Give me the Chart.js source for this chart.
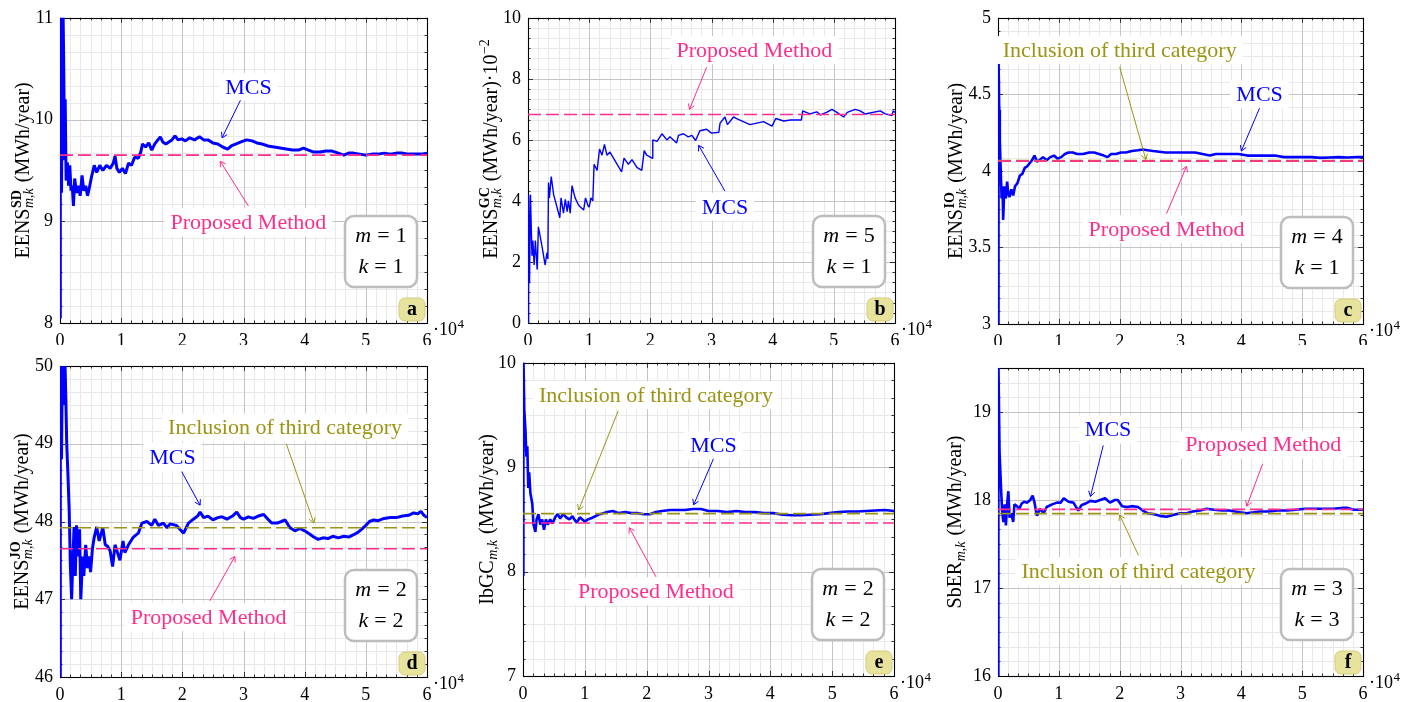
<!DOCTYPE html>
<html>
<head>
<meta charset="utf-8">
<script src="https://cdn.jsdelivr.net/npm/chart.js@4.4.1/dist/chart.umd.min.js"></script>
<style>
  html, body { margin: 0; padding: 0; background: #fff; }
  body { width: 1419px; height: 702px; position: relative; overflow: hidden; }
  canvas { position: absolute; }
</style>
</head>
<body>
<canvas id="pa"></canvas>
<canvas id="pb"></canvas>
<canvas id="pc"></canvas>
<canvas id="pd"></canvas>
<canvas id="pe"></canvas>
<canvas id="pf"></canvas>
<script>
// x values are iterations in units of 10^4
const xTicks = [0, 1, 2, 3, 4, 5, 6];

// (a) EENS SD, m=1 k=1
const mcsA = [[0,8.05],[0.005,11.5],[0.025,9.28],[0.045,11.3],[0.06,10.6],[0.075,9.6],[0.085,10.2],[0.1,9.4],[0.12,9.58],[0.14,9.35],[0.16,9.55],[0.18,9.3],[0.2,9.35],[0.22,9.15],[0.24,9.42],[0.27,9.28],[0.3,9.35],[0.33,9.25],[0.36,9.45],[0.39,9.3],[0.42,9.35],[0.45,9.25],[0.48,9.33],[0.52,9.45],[0.56,9.55],[0.6,9.48],[0.65,9.55],[0.7,9.5],[0.76,9.55],[0.82,9.52],[0.87,9.57],[0.9,9.64],[0.93,9.52],[0.97,9.48],[1.02,9.52],[1.07,9.47],[1.12,9.57],[1.17,9.55],[1.22,9.63],[1.28,9.62],[1.32,9.68],[1.35,9.76],[1.4,9.73],[1.45,9.77],[1.5,9.7],[1.55,9.76],[1.6,9.8],[1.64,9.83],[1.68,9.78],[1.73,9.76],[1.78,9.78],[1.83,9.8],[1.88,9.84],[1.93,9.8],[1.99,9.81],[2.05,9.79],[2.12,9.82],[2.2,9.8],[2.28,9.83],[2.35,9.8],[2.42,9.8],[2.5,9.77],[2.58,9.76],[2.66,9.73],[2.74,9.71],[2.8,9.74],[2.88,9.76],[2.96,9.78],[3.05,9.8],[3.14,9.79],[3.22,9.77],[3.3,9.76],[3.4,9.74],[3.5,9.73],[3.6,9.72],[3.7,9.71],[3.8,9.7],[3.9,9.7],[3.98,9.72],[4.06,9.7],[4.15,9.68],[4.25,9.68],[4.35,9.69],[4.45,9.69],[4.55,9.67],[4.64,9.65],[4.72,9.67],[4.8,9.67],[4.9,9.66],[5.0,9.65],[5.1,9.66],[5.2,9.66],[5.3,9.67],[5.4,9.66],[5.5,9.67],[5.6,9.67],[5.7,9.66],[5.8,9.66],[5.9,9.66],[6.0,9.67]];
const proposedA = 9.65;
const yTicksA = [8, 9, 10, 11];

// (b) EENS GC (x10^-2), m=5 k=1
const mcsB = [[0,0],[0.01,4.2],[0.025,1.3],[0.04,4.2],[0.065,2.2],[0.08,2.7],[0.1,1.9],[0.12,2.7],[0.15,1.75],[0.17,3.15],[0.23,2.5],[0.28,1.9],[0.31,2.3],[0.325,2.1],[0.335,4.6],[0.35,4.1],[0.38,4.8],[0.42,4.2],[0.52,3.45],[0.54,4.1],[0.58,3.6],[0.61,4.05],[0.64,3.65],[0.66,4.0],[0.69,3.6],[0.72,4.5],[0.77,4.1],[0.83,3.85],[0.91,3.7],[0.94,4.1],[0.98,3.85],[1.0,3.8],[1.03,4.1],[1.06,4.0],[1.08,5.2],[1.13,5.0],[1.17,5.7],[1.21,5.5],[1.25,5.85],[1.29,5.5],[1.34,5.6],[1.53,4.95],[1.57,5.4],[1.64,5.2],[1.7,5.35],[1.78,5.1],[1.86,5.0],[1.9,5.65],[1.94,5.5],[2.03,5.4],[2.04,6.0],[2.11,5.95],[2.19,6.2],[2.27,6.0],[2.32,6.1],[2.43,5.9],[2.46,6.15],[2.54,6.2],[2.62,6.1],[2.68,6.15],[2.74,5.98],[2.81,6.3],[2.92,6.35],[3.0,6.22],[3.12,6.25],[3.14,6.55],[3.22,6.75],[3.26,6.5],[3.36,6.75],[3.41,6.7],[3.52,6.6],[3.63,6.5],[3.74,6.55],[3.85,6.6],[3.99,6.45],[4.05,6.7],[4.18,6.62],[4.29,6.65],[4.47,6.65],[4.49,6.95],[4.61,6.85],[4.72,6.92],[4.78,6.82],[4.88,6.9],[4.97,7.0],[5.05,6.9],[5.16,6.75],[5.22,6.9],[5.35,7.0],[5.43,6.95],[5.51,6.85],[5.59,6.88],[5.76,6.95],[5.84,6.85],[5.95,6.8],[5.97,6.95],[6.0,6.9]];
const proposedB = 6.83;
const yTicksB = [0, 2, 4, 6, 8, 10];

// (c) EENS IO, m=4 k=1
const mcsC = [[0,3.0],[0.008,4.76],[0.02,4.4],[0.03,4.2],[0.045,4.0],[0.06,3.82],[0.075,3.9],[0.085,3.68],[0.1,3.85],[0.11,3.9],[0.13,3.82],[0.15,3.93],[0.17,3.85],[0.19,3.83],[0.22,3.88],[0.25,3.84],[0.28,3.9],[0.32,3.92],[0.36,3.97],[0.4,3.98],[0.44,4.02],[0.48,4.03],[0.52,4.05],[0.56,4.07],[0.6,4.1],[0.64,4.06],[0.68,4.07],[0.74,4.09],[0.8,4.07],[0.86,4.09],[0.92,4.1],[0.98,4.08],[1.04,4.09],[1.1,4.11],[1.16,4.12],[1.23,4.12],[1.3,4.11],[1.4,4.11],[1.5,4.12],[1.58,4.12],[1.66,4.11],[1.74,4.1],[1.8,4.09],[1.86,4.11],[1.94,4.11],[2.02,4.12],[2.1,4.12],[2.2,4.13],[2.3,4.135],[2.38,4.14],[2.46,4.135],[2.55,4.13],[2.65,4.125],[2.75,4.12],[2.88,4.12],[3.0,4.12],[3.12,4.12],[3.24,4.12],[3.36,4.11],[3.48,4.1],[3.58,4.11],[3.7,4.11],[3.82,4.11],[3.95,4.11],[4.1,4.1],[4.25,4.1],[4.4,4.1],[4.55,4.1],[4.7,4.09],[4.85,4.09],[5.0,4.09],[5.15,4.09],[5.3,4.085],[5.45,4.088],[5.6,4.09],[5.75,4.088],[5.9,4.09],[6.0,4.09]];
const proposedC = 4.064;
const thirdC = 4.067;
const yTicksC = [3, 3.5, 4, 4.5, 5];

// (d) EENS JO, m=2 k=2
const mcsD = [[0,46],[0.005,50.3],[0.025,48.8],[0.04,50.2],[0.06,49.5],[0.08,50.1],[0.095,49.6],[0.11,49.0],[0.13,48.6],[0.15,48.15],[0.17,47.42],[0.19,47.0],[0.21,47.5],[0.23,47.93],[0.25,47.3],[0.27,47.95],[0.3,47.55],[0.32,47.9],[0.34,47.0],[0.37,47.55],[0.39,47.3],[0.42,47.7],[0.45,47.4],[0.48,47.55],[0.5,47.35],[0.53,47.65],[0.56,47.8],[0.6,47.93],[0.64,47.75],[0.7,47.92],[0.74,47.7],[0.78,47.68],[0.82,47.62],[0.86,47.42],[0.9,47.7],[0.94,47.6],[0.98,47.5],[1.03,47.75],[1.06,47.6],[1.12,47.7],[1.2,47.8],[1.28,47.85],[1.34,47.98],[1.42,48.0],[1.5,47.95],[1.55,48.03],[1.61,47.95],[1.69,47.98],[1.75,47.92],[1.8,47.97],[1.9,47.95],[1.96,47.9],[2.02,47.85],[2.1,47.98],[2.18,48.03],[2.25,48.07],[2.29,48.12],[2.35,48.05],[2.42,48.07],[2.5,48.02],[2.58,48.05],[2.65,48.06],[2.73,48.03],[2.82,48.07],[2.89,48.12],[2.95,48.05],[3.0,48.03],[3.08,48.06],[3.16,48.04],[3.24,48.07],[3.33,48.09],[3.4,48.03],[3.46,47.98],[3.55,47.98],[3.62,48.0],[3.68,48.02],[3.76,47.92],[3.84,47.88],[3.92,47.91],[4.0,47.88],[4.08,47.84],[4.15,47.8],[4.22,47.77],[4.3,47.79],[4.38,47.78],[4.46,47.81],[4.55,47.79],[4.64,47.81],[4.72,47.8],[4.8,47.83],[4.87,47.86],[4.93,47.9],[5.0,47.95],[5.06,48.0],[5.13,48.02],[5.2,48.01],[5.3,48.04],[5.4,48.05],[5.5,48.05],[5.6,48.07],[5.7,48.08],[5.78,48.11],[5.85,48.1],[5.9,48.13],[5.95,48.08],[6.0,48.05]];
const proposedD = 47.65;
const thirdD = 47.92;
const yTicksD = [46, 47, 48, 49, 50];

// (e) IbGC, m=2 k=2
const mcsE = [[0,7.96],[0.006,10.1],[0.02,9.56],[0.04,9.35],[0.055,9.1],[0.07,9.2],[0.085,8.8],[0.1,8.95],[0.12,8.75],[0.15,8.65],[0.17,8.45],[0.2,8.38],[0.22,8.5],[0.25,8.55],[0.28,8.45],[0.31,8.5],[0.34,8.4],[0.37,8.5],[0.4,8.45],[0.44,8.5],[0.48,8.46],[0.52,8.52],[0.56,8.55],[0.6,8.51],[0.65,8.55],[0.7,8.52],[0.75,8.5],[0.8,8.53],[0.84,8.49],[0.87,8.47],[0.92,8.52],[0.96,8.5],[1.0,8.48],[1.05,8.5],[1.1,8.51],[1.17,8.53],[1.24,8.55],[1.3,8.56],[1.36,8.57],[1.45,8.58],[1.55,8.56],[1.65,8.57],[1.75,8.56],[1.85,8.56],[1.95,8.55],[2.05,8.55],[2.15,8.57],[2.25,8.58],[2.38,8.59],[2.5,8.59],[2.62,8.59],[2.75,8.6],[2.88,8.6],[3.0,8.58],[3.15,8.58],[3.3,8.57],[3.45,8.58],[3.6,8.57],[3.75,8.57],[3.9,8.56],[4.05,8.56],[4.2,8.545],[4.35,8.54],[4.5,8.54],[4.65,8.545],[4.8,8.55],[4.95,8.56],[5.1,8.57],[5.25,8.575],[5.4,8.575],[5.55,8.58],[5.7,8.585],[5.85,8.59],[6.0,8.58]];
const proposedE = 8.465;
const thirdE = 8.555;
const yTicksE = [7, 8, 9, 10];

// (f) SbER, m=3 k=3
const mcsF = [[0,16.0],[0.006,19.6],[0.025,18.55],[0.04,18.3],[0.05,18.13],[0.07,17.85],[0.09,17.75],[0.11,17.95],[0.13,17.71],[0.15,17.95],[0.17,18.1],[0.19,17.8],[0.22,17.85],[0.25,17.75],[0.27,17.95],[0.31,17.93],[0.35,17.9],[0.39,17.96],[0.43,17.98],[0.48,17.97],[0.53,18.0],[0.57,18.05],[0.6,17.97],[0.64,17.82],[0.69,17.9],[0.75,17.85],[0.8,17.92],[0.89,17.95],[0.97,17.97],[1.03,17.97],[1.08,18.02],[1.16,17.98],[1.24,17.97],[1.32,17.88],[1.37,17.94],[1.44,17.96],[1.52,17.99],[1.6,17.98],[1.68,18.0],[1.76,18.02],[1.84,17.97],[1.92,18.0],[1.97,18.0],[2.04,17.93],[2.12,17.92],[2.2,17.93],[2.3,17.92],[2.38,17.88],[2.46,17.85],[2.55,17.84],[2.66,17.82],[2.77,17.81],[2.88,17.83],[2.99,17.85],[3.1,17.85],[3.2,17.87],[3.32,17.88],[3.43,17.9],[3.55,17.89],[3.68,17.88],[3.8,17.88],[3.9,17.87],[3.98,17.86],[4.09,17.85],[4.2,17.86],[4.3,17.87],[4.45,17.87],[4.6,17.88],[4.75,17.88],[4.9,17.89],[5.05,17.9],[5.2,17.9],[5.35,17.9],[5.5,17.9],[5.65,17.91],[5.75,17.91],[5.85,17.89],[6.0,17.89]];
const proposedF = 17.894;
const thirdF = 17.845;
const yTicksF = [16, 17, 18, 19];

const BLUE = '#0000ff';
const PINK = '#ff2d8c';
const OLIVE = '#9c9412';
const SERIF = '"Liberation Serif", "Times New Roman", serif';
const R20 = '20px ' + SERIF, B14 = 'bold 14px ' + SERIF, I14 = 'italic 14px ' + SERIF, R14 = '14px ' + SERIF;

const panels = [
  { id: 'pa', left: 0, top: 0, w: 470, h: 345, area: [60, 15, 427, 323], yMin: 8, yMax: 11, yMajor: 1, yTicks: yTicksA,
    mcs: mcsA, proposed: proposedA, third: null, lw: 3, m: 1, k: 1, tag: 'a', yOff: 37, yShift: 0,
    ylabel: [{ t: 'EENS', f: R20 }, { sup: 'SD', fsup: B14, sub: 'm,k', fsub: I14 }, { t: ' (MWh/year)', f: R20 }],
    notes: [
      { text: 'MCS', c: BLUE, at: [3.08, 10.32], from: [2.95, 10.19], to: [2.65, 9.82] },
      { text: 'Proposed Method', c: PINK, at: [3.08, 8.99], from: [3.08, 9.15], to: [2.62, 9.59] }] },
  { id: 'pb', left: 470, top: 0, w: 470, h: 345, area: [528, 15, 895, 323], yMin: 0, yMax: 10, yMajor: 2, yTicks: yTicksB,
    mcs: mcsB, proposed: proposedB, third: null, lw: 1.4, m: 5, k: 1, tag: 'b', yOff: 37, yShift: -22,
    ylabel: [{ t: 'EENS', f: R20 }, { sup: 'GC', fsup: B14, sub: 'm,k', fsub: I14 }, { t: ' (MWh/year)·10', f: R20 }, { sup: '−2', fsup: R14 }],
    notes: [
      { text: 'Proposed Method', c: PINK, at: [3.70, 8.94], from: [2.92, 8.38], to: [2.64, 7.0] },
      { text: 'MCS', c: BLUE, at: [3.22, 3.81], from: [3.22, 4.32], to: [2.79, 5.82] }] },
  { id: 'pc', left: 940, top: 0, w: 479, h: 345, area: [998, 16, 1363, 324], yMin: 3, yMax: 5, yMajor: 0.5, yTicks: yTicksC,
    mcs: mcsC, proposed: proposedC, third: thirdC, lw: 2.6, m: 4, k: 1, tag: 'c', yOff: 42, yShift: 0,
    ylabel: [{ t: 'EENS', f: R20 }, { sup: 'IO', fsup: B14, sub: 'm,k', fsub: I14 }, { t: ' (MWh/year)', f: R20 }],
    notes: [
      { text: 'Inclusion of third category', c: OLIVE, at: [2.0, 4.79], from: [2.0, 4.68], to: [2.43, 4.075] },
      { text: 'MCS', c: BLUE, at: [4.30, 4.50], from: [4.30, 4.41], to: [4.0, 4.13] },
      { text: 'Proposed Method', c: PINK, at: [2.77, 3.62], from: [2.77, 3.72], to: [3.10, 4.03] }] },
  { id: 'pd', left: 0, top: 345, w: 470, h: 357, area: [60, 366, 427, 677], yMin: 46, yMax: 50, yMajor: 1, yTicks: yTicksD,
    mcs: mcsD, proposed: proposedD, third: thirdD, lw: 3, m: 2, k: 2, tag: 'd', yOff: 38, yShift: 0,
    ylabel: [{ t: 'EENS', f: R20 }, { sup: 'JO', fsup: B14, sub: 'm,k', fsub: I14 }, { t: ' (MWh/year)', f: R20 }],
    notes: [
      { text: 'Inclusion of third category', c: OLIVE, at: [3.68, 49.21], from: [3.70, 49.0], to: [4.15, 47.98] },
      { text: 'MCS', c: BLUE, at: [1.84, 48.83], from: [1.99, 48.64], to: [2.29, 48.21] },
      { text: 'Proposed Method', c: PINK, at: [2.43, 46.77], from: [2.45, 46.98], to: [2.86, 47.55] }] },
  { id: 'pe', left: 470, top: 345, w: 470, h: 357, area: [523, 362, 894, 676], yMin: 7, yMax: 10, yMajor: 1, yTicks: yTicksE,
    mcs: mcsE, proposed: proposedE, third: thirdE, lw: 2.6, m: 2, k: 2, tag: 'e', yOff: 36, yShift: 0,
    ylabel: [{ t: 'IbGC', f: R20 }, { sub: 'm,k', fsub: I14 }, { t: ' (MWh/year)', f: R20 }],
    notes: [
      { text: 'Inclusion of third category', c: OLIVE, at: [2.15, 9.69], from: [1.54, 9.54], to: [0.90, 8.59] },
      { text: 'MCS', c: BLUE, at: [3.08, 9.21], from: [3.08, 9.08], to: [2.76, 8.64] },
      { text: 'Proposed Method', c: PINK, at: [2.15, 7.81], from: [2.15, 7.95], to: [1.72, 8.42] }] },
  { id: 'pf', left: 940, top: 345, w: 479, h: 357, area: [998, 368, 1363, 676], yMin: 16, yMax: 19.5, yMajor: 1, yTicks: yTicksF,
    mcs: mcsF, proposed: proposedF, third: thirdF, lw: 2.6, m: 3, k: 3, tag: 'f', yOff: 43, yShift: 0,
    ylabel: [{ t: 'SbER', f: R20 }, { sub: 'm,k', fsub: I14 }, { t: ' (MWh/year)', f: R20 }],
    notes: [
      { text: 'MCS', c: BLUE, at: [1.81, 18.80], from: [1.73, 18.62], to: [1.52, 18.04] },
      { text: 'Proposed Method', c: PINK, at: [4.36, 18.63], from: [4.35, 18.41], to: [4.09, 17.93] },
      { text: 'Inclusion of third category', c: OLIVE, at: [2.31, 17.19], from: [2.31, 17.37], to: [2.0, 17.83] }] }
];

// major ticks plus 5 minor ticks between them (pgfplots style)
function gridTicks(min, max, major) {
  const out = [];
  const n = Math.round((max - min) / (major / 6));
  for (let i = 0; i <= n; i++) out.push({ value: min + i * major / 6 });
  return out;
}

function richWidth(ctx, segs) {
  let w = 0;
  for (const s of segs) {
    if (s.t !== undefined) { ctx.font = s.f; w += ctx.measureText(s.t).width; continue; }
    let a = 0, b = 0;
    if (s.sup) { ctx.font = s.fsup; a = ctx.measureText(s.sup).width; }
    if (s.sub) { ctx.font = s.fsub; b = ctx.measureText(s.sub).width; }
    w += Math.max(a, b) + 1.5;
  }
  return w;
}

function drawRich(ctx, segs, x, y) {
  for (const s of segs) {
    if (s.t !== undefined) { ctx.font = s.f; ctx.fillText(s.t, x, y); x += ctx.measureText(s.t).width; continue; }
    let a = 0, b = 0;
    if (s.sup) { ctx.font = s.fsup; ctx.fillText(s.sup, x + 0.5, y - 8); a = ctx.measureText(s.sup).width; }
    if (s.sub) { ctx.font = s.fsub; ctx.fillText(s.sub, x + 0.5, y + 4); b = ctx.measureText(s.sub).width; }
    x += Math.max(a, b) + 1.5;
  }
}

function arrow(ctx, x1, y1, x2, y2, color) {
  ctx.strokeStyle = color;
  ctx.lineWidth = 1;
  ctx.beginPath(); ctx.moveTo(x1, y1); ctx.lineTo(x2, y2); ctx.stroke();
  const ang = Math.atan2(y2 - y1, x2 - x1), L = 6;
  ctx.beginPath();
  ctx.moveTo(x2 - L * Math.cos(ang - 0.55), y2 - L * Math.sin(ang - 0.55));
  ctx.lineTo(x2, y2);
  ctx.lineTo(x2 - L * Math.cos(ang + 0.55), y2 - L * Math.sin(ang + 0.55));
  ctx.stroke();
}

function decor(p) {
  return {
    id: 'decor_' + p.id,
    beforeDatasetsDraw(chart) {
      const { ctx, chartArea: a, scales: { x, y } } = chart;
      ctx.save();
      ctx.lineWidth = 1;
      // minor grid, then major grid
      [[false, '#e9e9e9'], [true, '#c4c4c4']].forEach(([major, col]) => {
        ctx.strokeStyle = col;
        ctx.beginPath();
        x.ticks.forEach((t, i) => {
          if ((i % 6 === 0) !== major) return;
          const px = Math.round(x.getPixelForValue(t.value)) + 0.5;
          ctx.moveTo(px, a.top); ctx.lineTo(px, a.bottom);
        });
        y.ticks.forEach((t, i) => {
          if ((i % 6 === 0) !== major) return;
          const py = Math.round(y.getPixelForValue(t.value)) + 0.5;
          ctx.moveTo(a.left, py); ctx.lineTo(a.right, py);
        });
        ctx.stroke();
      });
      // inward tick marks on all four sides
      ctx.strokeStyle = '#333';
      ctx.beginPath();
      x.ticks.forEach((t, i) => {
        const px = Math.round(x.getPixelForValue(t.value)) + 0.5, len = i % 6 === 0 ? 5 : 2.5;
        ctx.moveTo(px, a.bottom); ctx.lineTo(px, a.bottom - len);
        ctx.moveTo(px, a.top); ctx.lineTo(px, a.top + len);
      });
      y.ticks.forEach((t, i) => {
        const py = Math.round(y.getPixelForValue(t.value)) + 0.5, len = i % 6 === 0 ? 5 : 2.5;
        ctx.moveTo(a.left, py); ctx.lineTo(a.left + len, py);
        ctx.moveTo(a.right, py); ctx.lineTo(a.right - len, py);
      });
      ctx.stroke();
      // frame
      ctx.strokeStyle = '#000';
      ctx.lineWidth = 1.1;
      ctx.strokeRect(Math.round(a.left) + 0.5, Math.round(a.top) + 0.5, Math.round(a.right - a.left), Math.round(a.bottom - a.top));
      ctx.restore();
    },
    afterDatasetsDraw(chart) {
      const { ctx, chartArea: a, scales: { x, y } } = chart;
      ctx.save();
      // annotations with arrows
      for (const n of p.notes) {
        const px = x.getPixelForValue(n.at[0]), py = y.getPixelForValue(n.at[1]);
        ctx.font = '22px ' + SERIF;
        const w = ctx.measureText(n.text).width;
        ctx.fillStyle = '#fff';
        ctx.fillRect(px - w / 2 - 6, py - 14, w + 12, 28);
        ctx.fillStyle = n.c;
        ctx.textAlign = 'center';
        ctx.textBaseline = 'middle';
        ctx.fillText(n.text, px, py + 1);
        arrow(ctx, x.getPixelForValue(n.from[0]), y.getPixelForValue(n.from[1]),
          x.getPixelForValue(n.to[0]), y.getPixelForValue(n.to[1]), n.c);
      }
      // m / k box
      const bw = 72, bh = 71, bx = a.right - 10 - bw, by = a.bottom - 36 - bh;
      ctx.beginPath();
      ctx.roundRect(bx, by, bw, bh, 9);
      ctx.fillStyle = '#fff'; ctx.fill();
      ctx.lineWidth = 2.5; ctx.strokeStyle = '#bdbdbd'; ctx.stroke();
      ctx.fillStyle = '#000';
      ctx.textAlign = 'left';
      ctx.textBaseline = 'middle';
      [['m', p.m, by + 20], ['k', p.k, by + 51]].forEach(([v, val, cy]) => {
        ctx.font = 'italic 22px ' + SERIF;
        const w1 = ctx.measureText(v).width;
        ctx.font = '22px ' + SERIF;
        const w2 = ctx.measureText('=').width, w3 = ctx.measureText(String(val)).width;
        const gap = 6, tot = w1 + gap + w2 + gap + w3;
        let cx = bx + bw / 2 - tot / 2;
        ctx.font = 'italic 22px ' + SERIF; ctx.fillText(v, cx, cy); cx += w1 + gap;
        ctx.font = '22px ' + SERIF; ctx.fillText('=', cx, cy); cx += w2 + gap;
        ctx.fillText(String(val), cx, cy);
      });
      // panel tag badge
      ctx.beginPath();
      ctx.roundRect(a.right - 28, a.bottom - 25, 26, 23, 6);
      ctx.fillStyle = '#e7e39c'; ctx.fill();
      ctx.lineWidth = 1; ctx.strokeStyle = '#d3cd7c'; ctx.stroke();
      ctx.fillStyle = '#000';
      ctx.font = 'bold 20px ' + SERIF;
      ctx.textAlign = 'center';
      ctx.fillText(p.tag, a.right - 15, a.bottom - 13);
      // x exponent
      ctx.textAlign = 'left';
      ctx.textBaseline = 'alphabetic';
      ctx.font = '18px ' + SERIF;
      ctx.fillText('·10', a.right + 6, a.bottom + 12);
      const ew = ctx.measureText('·10').width;
      ctx.font = '13px ' + SERIF;
      ctx.fillText('4', a.right + 6 + ew + 0.5, a.bottom + 5);
      // rotated y label
      const cx = a.left - p.yOff, cy = (a.top + a.bottom) / 2 + p.yShift;
      ctx.translate(cx, cy);
      ctx.rotate(-Math.PI / 2);
      const W = richWidth(ctx, p.ylabel);
      drawRich(ctx, p.ylabel, -W / 2, 6);
      ctx.restore();
    }
  };
}

function flatLine(v, color) {
  return { data: [{ x: 0, y: v }, { x: 6, y: v }], borderColor: color, borderWidth: 1.6,
    borderDash: [13, 5], pointRadius: 0, fill: false };
}

panels.forEach(p => {
  const cv = document.getElementById(p.id);
  cv.width = p.w; cv.height = p.h;
  cv.style.left = p.left + 'px'; cv.style.top = p.top + 'px';
  const datasets = [];
  if (p.proposed !== null) datasets.push(flatLine(p.proposed, PINK));
  if (p.third !== null) datasets.push(flatLine(p.third, OLIVE));
  datasets.push({ data: p.mcs.map(([x, y]) => ({ x, y })), borderColor: BLUE, borderWidth: p.lw,
    pointRadius: 0, fill: false, tension: 0, borderJoinStyle: 'bevel' });
  const tickFont = { family: SERIF, size: 18 };
  new Chart(cv, {
    type: 'line',
    data: { datasets },
    options: {
      responsive: false,
      animation: false,
      events: [],
      layout: { padding: { left: 0, top: p.area[1] - p.top, right: p.left + p.w - p.area[2], bottom: 0 } },
      plugins: { legend: { display: false }, tooltip: { enabled: false } },
      scales: {
        x: {
          type: 'linear', min: 0, max: 6,
          afterFit: s => { s.height = p.top + p.h - p.area[3]; },
          afterBuildTicks: s => { s.ticks = gridTicks(0, 6, 1); },
          grid: { display: false, drawTicks: false },
          border: { display: false },
          ticks: { autoSkip: false, maxRotation: 0, padding: 7, color: '#000', font: tickFont,
            callback: (v, i) => i % 6 === 0 ? String(xTicks[i / 6]) : '' }
        },
        y: {
          type: 'linear', min: p.yMin, max: p.yMax,
          afterFit: s => { s.width = p.area[0] - p.left; },
          afterBuildTicks: s => { s.ticks = gridTicks(p.yMin, p.yMax, p.yMajor); },
          grid: { display: false, drawTicks: false },
          border: { display: false },
          ticks: { autoSkip: false, padding: 7, color: '#000', font: tickFont,
            callback: (v, i) => i % 6 === 0 ? String(p.yTicks[i / 6]) : '' }
        }
      }
    },
    plugins: [decor(p)]
  });
});
</script>
</body>
</html>
